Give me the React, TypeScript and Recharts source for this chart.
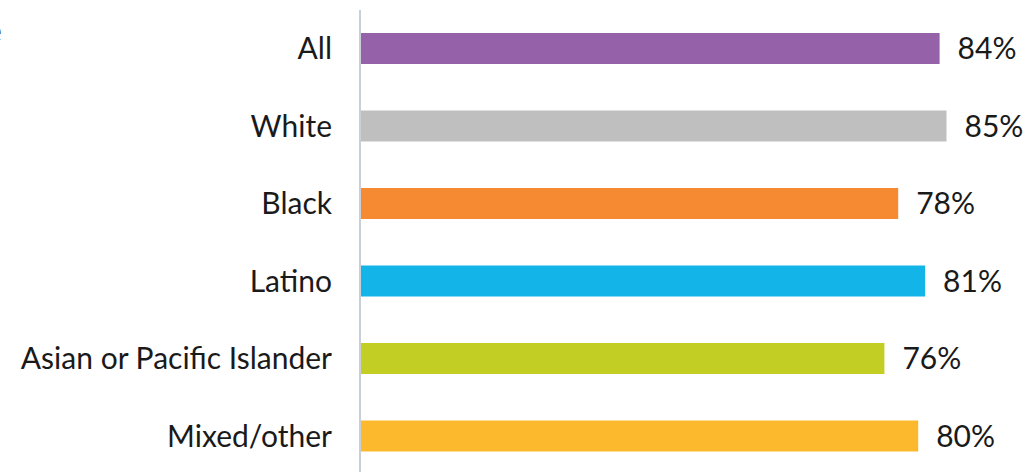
import { BarChart, Bar, XAxis, YAxis, Cell, LabelList } from 'recharts'

const categories = ['All', 'White', 'Black', 'Latino', 'Asian or Pacific Islander', 'Mixed/other']
const values = [84, 85, 78, 81.9, 76, 80.9]
const valueLabels = ['84%', '85%', '78%', '81%', '76%', '80%']
const colors = ['#9561A8', '#BFBFBF', '#F58A33', '#13B5E9', '#C2CE23', '#FDB92E']

const data = categories.map((name, i) => ({ name, value: values[i], label: valueLabels[i] }))

const font = 'Lato, "Open Sans", sans-serif'

export default function App() {
  return (
    <div
      style={{
        position: 'absolute',
        left: 0,
        top: 0,
        width: 1030,
        height: 472,
        overflow: 'hidden',
        background: '#fff',
      }}
    >
      {/* fragment of a cropped title at the left edge */}
      <svg style={{ position: 'absolute', left: 0, top: 0 }} width={20} height={60}>
        <text x={-14} y={42} fontSize={30} fontFamily={font} fill="#4F5D6B">
          e
        </text>
      </svg>
      <BarChart
        width={1050}
        height={480}
        data={data}
        layout="vertical"
        margin={{ top: 10, right: 0, bottom: 5, left: 0 }}
        barSize={31}
      >
        <XAxis type="number" domain={[0, 100]} hide />
        <YAxis
          type="category"
          dataKey="name"
          width={360}
          tickLine={false}
          tickSize={0}
          tickMargin={28}
          axisLine={{ stroke: '#C8CFD6', strokeWidth: 2 }}
          tick={{ fontSize: 30, fontFamily: font, fill: '#1a1a1a' }}
          interval={0}
        />
        <Bar dataKey="value" isAnimationActive={false}>
          {data.map((d, i) => (
            <Cell key={d.name} fill={colors[i]} />
          ))}
          <LabelList
            dataKey="label"
            position="right"
            offset={18}
            style={{ fontSize: 30, fontFamily: font, fill: '#1a1a1a' }}
          />
        </Bar>
      </BarChart>
    </div>
  )
}
